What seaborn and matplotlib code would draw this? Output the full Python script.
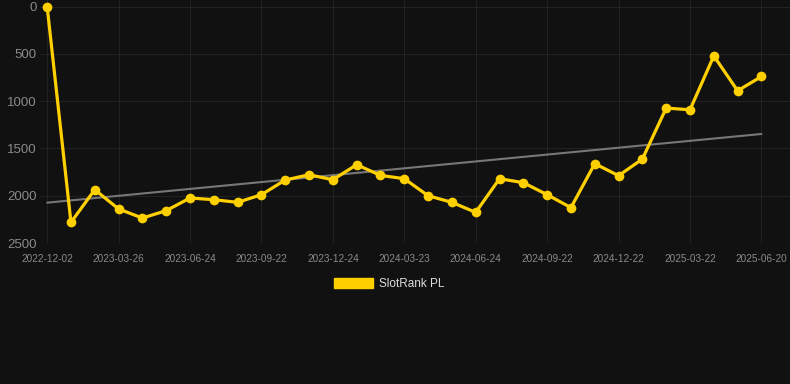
import numpy as np
import pandas as pd
import matplotlib
matplotlib.use("Agg")
import matplotlib.pyplot as plt
import seaborn as sns
from matplotlib.patches import Patch

# Data (rank, lower is better)
ranks = [0, 2282, 1936, 2140, 2236, 2158, 2024, 2042, 2070, 1989,
         1834, 1778, 1831, 1672, 1785, 1820, 2000, 2070, 2176, 1820,
         1862, 1989, 2126, 1661, 1788, 1612, 1073, 1091, 521, 890, 739]
tick_labels = ["2022-12-02", "2023-03-26", "2023-06-24", "2023-09-22",
               "2023-12-24", "2024-03-23", "2024-06-24", "2024-09-22",
               "2024-12-22", "2025-03-22", "2025-06-20"]
series_name = "SlotRank PL"
y_ticks = [0, 500, 1000, 1500, 2000, 2500]

BG = "#111111"
GOLD = "#FFD000"

sns.set_style("dark", rc={"axes.facecolor": BG, "figure.facecolor": BG,
                          "grid.color": "#222222", "axes.edgecolor": BG})
plt.rcParams["font.family"] = ["Liberation Sans", "DejaVu Sans"]

df = pd.DataFrame({"idx": np.arange(len(ranks)), "rank": ranks})

fig = plt.figure(figsize=(7.9, 3.84), dpi=100)
ax = fig.add_axes([40 / 790, 1 - 243 / 384, 750 / 790, 243 / 384])
ax.set_facecolor(BG)

# trend line (linear fit)
coef = np.polyfit(df["idx"], df["rank"], 1)
trend = np.polyval(coef, df["idx"])
sns.lineplot(x=df["idx"], y=trend, ax=ax, color="#777777", linewidth=1.5, legend=False)

sns.lineplot(data=df, x="idx", y="rank", ax=ax, color=GOLD, linewidth=2.3,
             marker="o", markersize=7, markeredgewidth=0, label=series_name, legend=False)

ax.set_xlim(-0.3, 31.2)
ax.set_ylim(2500, -70)
ax.set_yticks(y_ticks)
ax.set_yticklabels([str(v) for v in y_ticks], color="#8a8a8a", fontsize=9.5)
ax.set_xticks(np.arange(0, len(ranks), 3))
ax.set_xticklabels(tick_labels, color="#8a8a8a", fontsize=7.2)
ax.tick_params(axis="x", length=4, color="#222222", pad=4)
ax.tick_params(axis="y", length=0, pad=2.5)
ax.grid(True, color="#222222", linewidth=0.8)
for s in ax.spines.values():
    s.set_visible(False)
ax.set_xlabel("")
ax.set_ylabel("")

handles = [Patch(facecolor=GOLD, edgecolor=GOLD)]
leg = fig.legend(handles, [series_name], loc="center", bbox_to_anchor=(389 / 790, 1 - 284 / 384),
                 frameon=False, fontsize=8.5, handlelength=3.3, handleheight=1.0,
                 handletextpad=0.55, labelcolor="#dddddd")

fig.savefig("out.png", dpi=100, facecolor=BG)
